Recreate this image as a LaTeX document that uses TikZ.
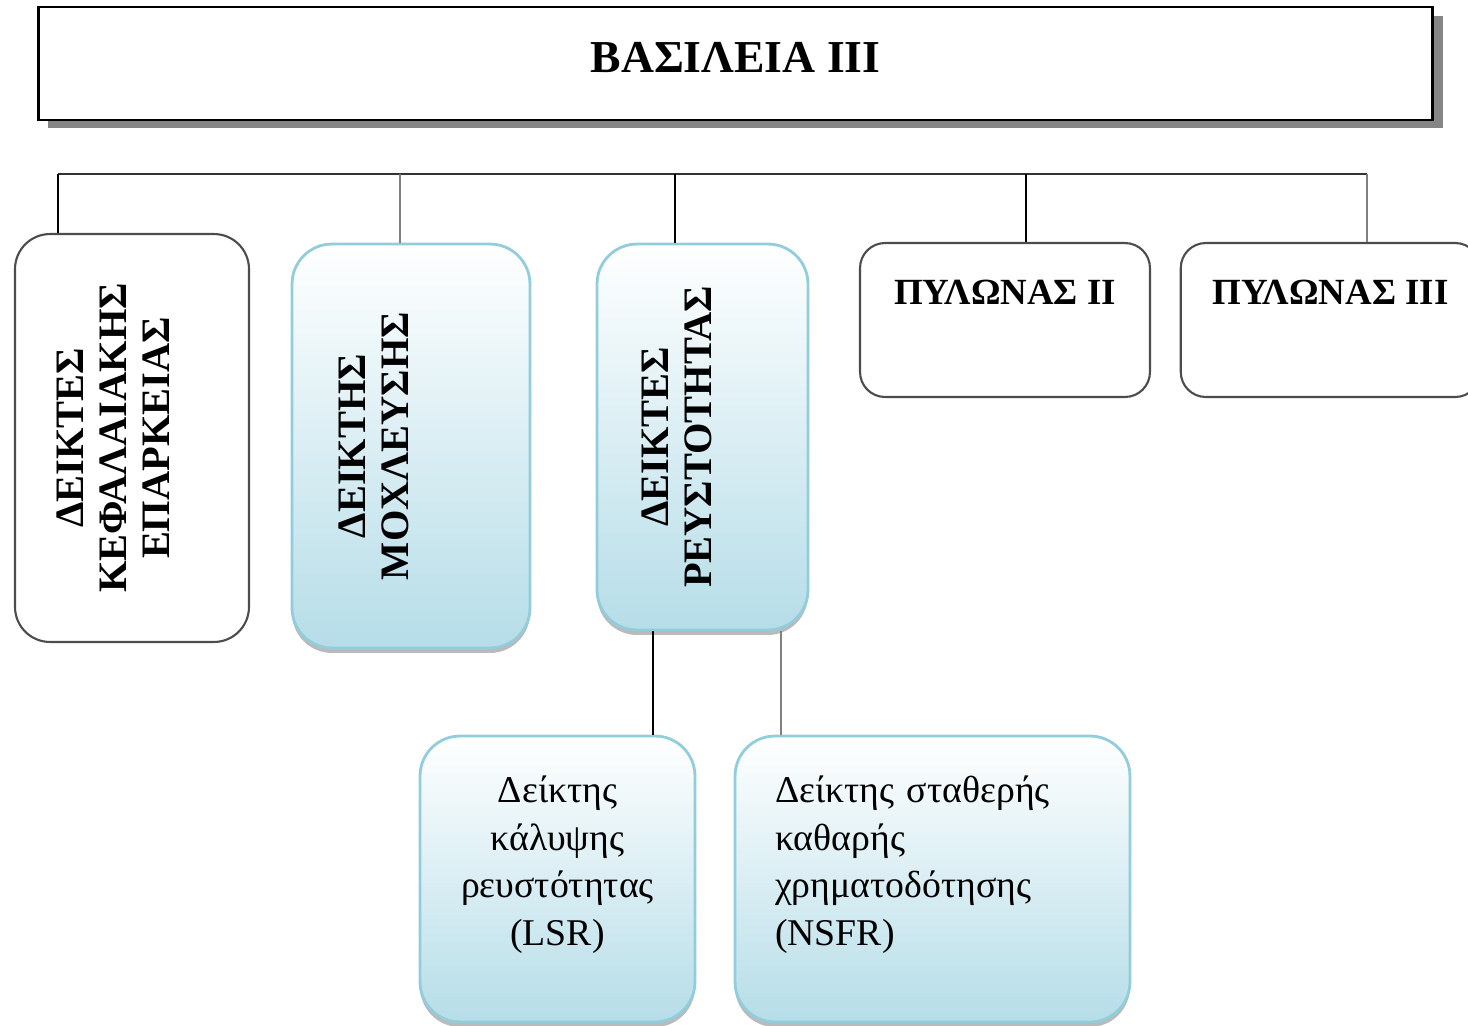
\documentclass[tikz,border=0pt]{standalone}
\usepackage{fontspec}
\setmainfont{Liberation Serif}
\usetikzlibrary{shadows}

\definecolor{boxblue}{HTML}{B6DDE8}
\definecolor{bordblue}{HTML}{92CDDC}
\definecolor{skia}{HTML}{858585}

\begin{document}
\begin{tikzpicture}[x=0.02cm, y=-0.02cm,
    titlos/.style = {draw, line width=1.6pt, fill=white, minimum width=27.9cm, minimum height=2.26cm,
        text depth=0.26cm,
        drop shadow={shadow xshift=0.2cm, shadow yshift=-0.17cm, fill=skia, opacity=1},
        font=\bfseries\fontsize{26}{30}\selectfont},
    lefko/.style = {draw=black!70, line width=1.2pt, rounded corners=0.7cm, fill=white},
    ble/.style = {draw=bordblue, line width=1.6pt, rounded corners=0.8cm, top color=white, bottom color=boxblue,
        drop shadow={shadow xshift=0cm, shadow yshift=-0.1cm, fill=black!45, opacity=0.6}},
    orthio/.style = {font=\bfseries\fontsize{23}{24.4}\selectfont},
    pylonas/.style = {lefko, rounded corners=0.5cm, minimum width=5.8cm, minimum height=3.08cm,
        text depth=1.12cm, font=\bfseries\fontsize{21}{25}\selectfont},
    paidi/.style = {ble, minimum height=5.72cm, text depth=3.6cm, font=\fontsize{21.5}{27.2}\selectfont},
    syn/.style = {line width=1.3pt}]
    \useasboundingbox (0,0) rectangle (1468,1025);
    \clip (0,0) rectangle (1468,1025);

    % Titlos
    \node[titlos] (vas) at (735.5,63.5) {ΒΑΣΙΛΕΙΑ III};

    % Pylonas I
    \node[lefko, orthio, minimum width=4.68cm, minimum height=8.16cm] (kef) at (132,438)
        {\rotatebox{90}{\begin{tabular}{c}ΔΕΙΚΤΕΣ\\ΚΕΦΑΛΑΙΑΚΗΣ\\ΕΠΑΡΚΕΙΑΣ\\[0.56cm]\end{tabular}}};
    \node[ble, orthio, minimum width=4.76cm, minimum height=8.08cm] (mox) at (411,446)
        {\rotatebox{90}{\begin{tabular}{c}ΔΕΙΚΤΗΣ\\ΜΟΧΛΕΥΣΗΣ\\[1.32cm]\end{tabular}}};
    \node[ble, orthio, minimum width=4.22cm, minimum height=7.72cm] (reu) at (702.5,437)
        {\rotatebox{90}{\begin{tabular}{c}ΔΕΙΚΤΕΣ\\ΡΕΥΣΤΟΤΗΤΑΣ\\[0.84cm]\end{tabular}}};

    % Pylones II kai III
    \node[pylonas] (pyl2) at (1005,320) {ΠΥΛΩΝΑΣ II};
    \node[pylonas, minimum width=5.99cm] (pyl3) at (1330.5,320) {ΠΥΛΩΝΑΣ III};

    % Deiktes reustotitas
    \node[paidi, text width=5.1cm, inner xsep=0.2cm, align=center] (lsr) at (557.5,879)
        {Δείκτης\\κάλυψης\\ρευστότητας\\(LSR)};
    \node[paidi, text width=6.3cm, inner xsep=0.8cm, align=left] (nsfr) at (932.5,879)
        {Δείκτης σταθερής\\καθαρής\\χρηματοδότησης\\(NSFR)};

    % Grammes
    \coordinate (b1) at (58,174);
    \coordinate (b2) at (400,174);
    \coordinate (b3) at (675,174);
    \coordinate (b4) at (1026,174);
    \coordinate (b5) at (1367,174);
    \draw[syn, black!80] (b1) -- (b5);
    \draw[syn] (b1) -- (b1 |- kef.north);
    \draw[syn, black!50] (b2) -- (b2 |- mox.north);
    \draw[syn] (b3) -- (b3 |- reu.north);
    \draw[syn] (b4) -- (b4 |- pyl2.north);
    \draw[syn, black!50] (b5) -- (b5 |- pyl3.north);

    \coordinate (c1) at (653,0);
    \coordinate (c2) at (781,0);
    \draw[syn] (c1 |- reu.south) -- (c1 |- lsr.north);
    \draw[syn, black!50] (c2 |- reu.south) -- (c2 |- nsfr.north);
\end{tikzpicture}
\end{document}
